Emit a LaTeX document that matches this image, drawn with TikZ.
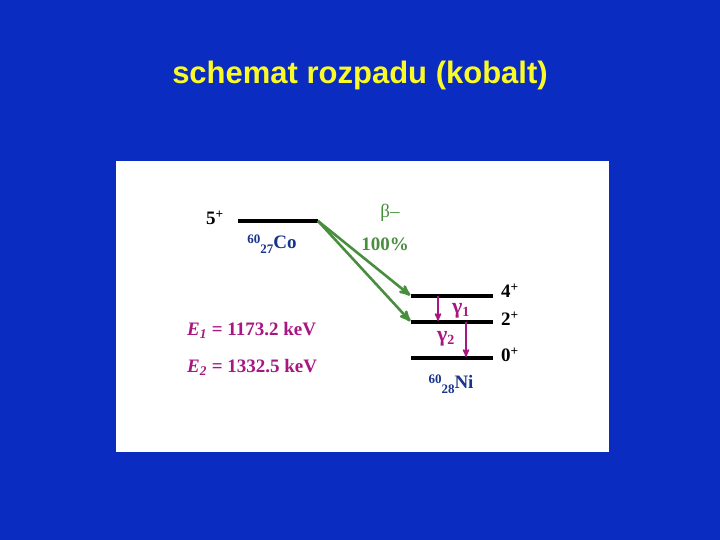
\documentclass[tikz,border=0pt]{standalone}
\usepackage{fontspec}
\setmainfont{Liberation Serif}
\newfontfamily\titlefont{Liberation Sans}
\usetikzlibrary{arrows}

\definecolor{tlo}{RGB}{10,44,192}
\definecolor{zolty}{RGB}{250,250,40}
\definecolor{zielony}{RGB}{72,142,62}
\definecolor{purpura}{RGB}{168,22,128}
\definecolor{granat}{RGB}{24,52,140}

\begin{document}
\begin{tikzpicture}[x=1pt,y=-1pt,>=stealth',
        poziom/.style={line width=3.2pt},
        beta/.style={->,draw=zielony,line width=2.6pt,shorten >=1pt},
        gamma/.style={->,draw=purpura,line width=1.6pt,shorten >=1pt},
        opis/.style={font=\fontsize{19}{22}\selectfont\bfseries,inner sep=1pt}]

  \fill[tlo] (0,0) rectangle (720,540);
  \fill[white] (116,161) rectangle (609,452);

  \node[text=zolty,font=\titlefont\fontsize{31}{36}\selectfont\bfseries] (tytul) at (360,75) {schemat rozpadu (kobalt)};

  % poziomy
  \coordinate (co_l) at (238,221);  \coordinate (co_r) at (318,221);
  \coordinate (n4_l) at (411,296);  \coordinate (n4_r) at (493,296);
  \coordinate (n2_l) at (411,322);  \coordinate (n2_r) at (493,322);
  \coordinate (n0_l) at (411,358);  \coordinate (n0_r) at (493,358);
  \coordinate (g1_a) at (438,296);  \coordinate (g1_b) at (438,322);
  \coordinate (g2_a) at (466,322);  \coordinate (g2_b) at (466,358);

  \draw[poziom,line width=4pt] (co_l) -- (co_r);
  \draw[poziom] (n4_l) -- (n4_r);
  \draw[poziom] (n2_l) -- (n2_r);
  \draw[poziom] (n0_l) -- (n0_r);

  \draw[beta] (co_r) -- (n4_l);
  \draw[beta] (co_r) -- (n2_l);
  \draw[gamma] (g1_a) -- (g1_b);
  \draw[gamma] (g2_a) -- (g2_b);

  % opisy
  \node[opis] (s5) at (215,218) {5\textsuperscript{+}};
  \node[opis] (s4) at (510,291) {4\textsuperscript{+}};
  \node[opis] (s2) at (510,319) {2\textsuperscript{+}};
  \node[opis] (s0) at (510,355) {0\textsuperscript{+}};
  \node[opis,text=granat] (co) at (272,244) {\raisebox{5pt}{\fontsize{13}{15}\selectfont 60}\raisebox{-5pt}{\fontsize{13}{15}\selectfont 27}Co};
  \node[opis,text=granat] (ni) at (451,384) {\raisebox{5pt}{\fontsize{13}{15}\selectfont 60}\raisebox{-5pt}{\fontsize{13}{15}\selectfont 28}Ni};
  \node[opis,text=zielony,font=\fontsize{19}{22}\selectfont] (b) at (390,213) {β–};
  \node[opis,text=zielony] (proc) at (385,244) {100\%};
  \node[opis,text=purpura,font=\fontsize{22}{24}\selectfont\bfseries] (g1) at (461,311) {γ\textsubscript{\fontsize{14}{16}\selectfont 1}};
  \node[opis,text=purpura,font=\fontsize{22}{24}\selectfont\bfseries] (g2) at (446,339) {γ\textsubscript{\fontsize{14}{16}\selectfont 2}};
  \node[opis,text=purpura,anchor=west] (e1) at (186,330) {\textit{E\textsubscript{1}} = 1173.2 keV};
  \node[opis,text=purpura,anchor=west] (e2) at (186,367) {\textit{E\textsubscript{2}} = 1332.5 keV};

\end{tikzpicture}
\end{document}
